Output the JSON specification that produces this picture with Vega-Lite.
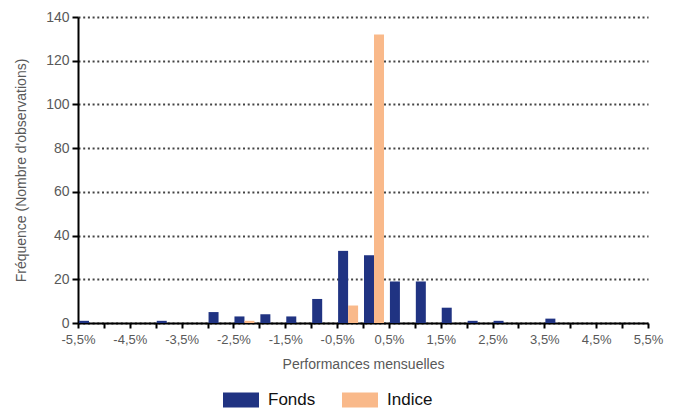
{
  "$schema": "https://vega.github.io/schema/vega-lite/v6.json",
  "width": 570,
  "height": 306,
  "autosize": {"type": "none"},
  "padding": {"left": 78, "top": 17, "right": 29, "bottom": 87},
  "config": {
    "view": {"stroke": null},
    "font": "Liberation Sans"
  },
  "data": {
    "values": [
      {"bin": -5.5, "series": "Fonds", "count": 1},
      {"bin": -5.5, "series": "Indice", "count": 0},
      {"bin": -5.0, "series": "Fonds", "count": 0},
      {"bin": -5.0, "series": "Indice", "count": 0},
      {"bin": -4.5, "series": "Fonds", "count": 0},
      {"bin": -4.5, "series": "Indice", "count": 0},
      {"bin": -4.0, "series": "Fonds", "count": 1},
      {"bin": -4.0, "series": "Indice", "count": 0},
      {"bin": -3.5, "series": "Fonds", "count": 0},
      {"bin": -3.5, "series": "Indice", "count": 0},
      {"bin": -3.0, "series": "Fonds", "count": 5},
      {"bin": -3.0, "series": "Indice", "count": 0},
      {"bin": -2.5, "series": "Fonds", "count": 3},
      {"bin": -2.5, "series": "Indice", "count": 1},
      {"bin": -2.0, "series": "Fonds", "count": 4},
      {"bin": -2.0, "series": "Indice", "count": 0},
      {"bin": -1.5, "series": "Fonds", "count": 3},
      {"bin": -1.5, "series": "Indice", "count": 0},
      {"bin": -1.0, "series": "Fonds", "count": 11},
      {"bin": -1.0, "series": "Indice", "count": 0},
      {"bin": -0.5, "series": "Fonds", "count": 33},
      {"bin": -0.5, "series": "Indice", "count": 8},
      {"bin": 0.0, "series": "Fonds", "count": 31},
      {"bin": 0.0, "series": "Indice", "count": 132},
      {"bin": 0.5, "series": "Fonds", "count": 19},
      {"bin": 0.5, "series": "Indice", "count": 0},
      {"bin": 1.0, "series": "Fonds", "count": 19},
      {"bin": 1.0, "series": "Indice", "count": 0},
      {"bin": 1.5, "series": "Fonds", "count": 7},
      {"bin": 1.5, "series": "Indice", "count": 0},
      {"bin": 2.0, "series": "Fonds", "count": 1},
      {"bin": 2.0, "series": "Indice", "count": 0},
      {"bin": 2.5, "series": "Fonds", "count": 1},
      {"bin": 2.5, "series": "Indice", "count": 0},
      {"bin": 3.0, "series": "Fonds", "count": 0},
      {"bin": 3.0, "series": "Indice", "count": 0},
      {"bin": 3.5, "series": "Fonds", "count": 2},
      {"bin": 3.5, "series": "Indice", "count": 0},
      {"bin": 4.0, "series": "Fonds", "count": 0},
      {"bin": 4.0, "series": "Indice", "count": 0},
      {"bin": 4.5, "series": "Fonds", "count": 0},
      {"bin": 4.5, "series": "Indice", "count": 0},
      {"bin": 5.0, "series": "Fonds", "count": 0},
      {"bin": 5.0, "series": "Indice", "count": 0}
    ]
  },
  "layer": [
    {
      "mark": {"type": "bar"},
      "encoding": {
        "x": {
          "field": "bin",
          "type": "ordinal",
          "scale": {"paddingInner": 0, "paddingOuter": 0, "domain": [-5.5,-5.0,-4.5,-4.0,-3.5,-3.0,-2.5,-2.0,-1.5,-1.0,-0.5,0.0,0.5,1.0,1.5,2.0,2.5,3.0,3.5,4.0,4.5,5.0]},
          "axis": null
        },
        "xOffset": {
          "field": "series",
          "type": "nominal",
          "scale": {"domain": ["Fonds", "Indice"], "paddingInner": 0, "paddingOuter": 0.295, "align": 0.17}
        },
        "y": {
          "field": "count",
          "type": "quantitative",
          "scale": {"domain": [0, 140]},
          "axis": {
            "values": [0, 20, 40, 60, 80, 100, 120, 140],
            "title": "Fréquence (Nombre d'observations)",
            "titleFontSize": 14,
            "titleFontWeight": "normal",
            "titleColor": "#595959",
            "titlePadding": 17,
            "labelFontSize": 14,
            "labelColor": "#595959",
            "labelPadding": 3,
            "domainColor": "#000000",
            "domainWidth": 2,
            "tickColor": "#000000",
            "tickWidth": 2,
            "tickSize": 6,
            "grid": true,
            "gridColor": "#444444",
            "gridWidth": 2,
            "gridDash": [2, 2.7]
          }
        },
        "color": {
          "field": "series",
          "type": "nominal",
          "scale": {"domain": ["Fonds", "Indice"], "range": ["#203382", "#F9B98A"]},
          "legend": {
            "title": null,
            "orient": "none",
            "direction": "horizontal",
            "legendX": 145,
            "legendY": 365,
            "symbolType": "M-1,-0.417L1,-0.417L1,0.417L-1,0.417Z",
            "symbolSize": 1296,
            "symbolStrokeWidth": 0,
            "symbolOpacity": 1,
            "labelFontSize": 17,
            "labelColor": "#111111",
            "labelOffset": 9,
            "columnPadding": 26
          }
        }
      }
    },
    {
      "mark": {"type": "point", "opacity": 0},
      "encoding": {
        "x": {
          "field": "bin",
          "type": "quantitative",
          "scale": {"domain": [-5.5, 5.5], "nice": false, "zero": false},
          "axis": {
            "values": [-5.5,-5.0,-4.5,-4.0,-3.5,-3.0,-2.5,-2.0,-1.5,-1.0,-0.5,0.0,0.5,1.0,1.5,2.0,2.5,3.0,3.5,4.0,4.5,5.0,5.5],
            "labelExpr": "abs((datum.value + 5.5) % 1) < 0.01 ? (datum.value < 0 ? '-' : '') + replace(format(abs(datum.value), '.1f'), '.', ',') + '%' : ''",
            "title": "Performances mensuelles",
            "titleFontSize": 14,
            "titleFontWeight": "normal",
            "titleColor": "#595959",
            "titlePadding": 11,
            "labelFontSize": 13,
            "labelColor": "#595959",
            "labelPadding": 5,
            "labelFlush": false,
            "labelOverlap": false,
            "domainColor": "#000000",
            "domainWidth": 2,
            "tickColor": "#000000",
            "tickWidth": 2,
            "tickSize": 5,
            "grid": false
          }
        }
      }
    }
  ],
  "resolve": {"scale": {"x": "independent"}, "axis": {"x": "independent"}}
}
